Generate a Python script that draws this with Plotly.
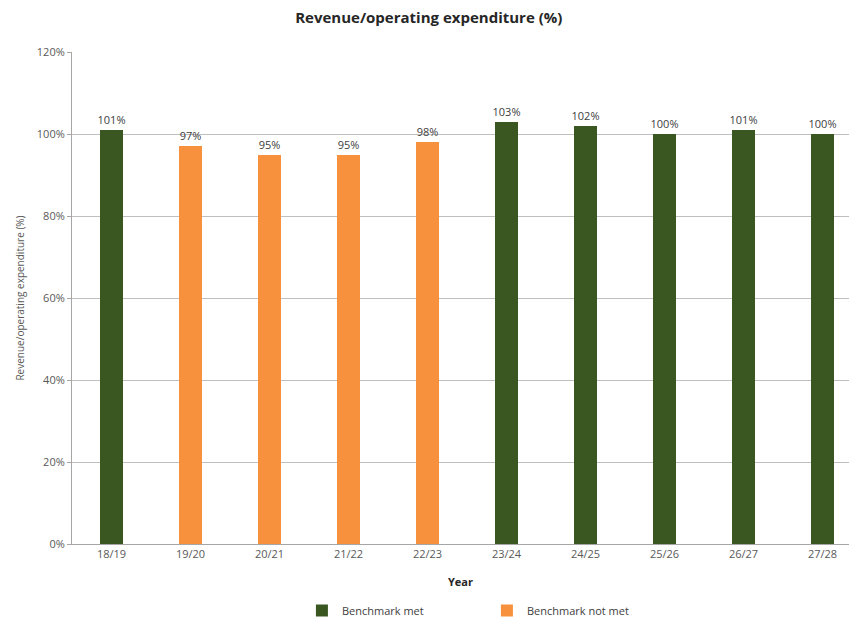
import plotly.graph_objects as go

years = ["18/19", "19/20", "20/21", "21/22", "22/23", "23/24", "24/25", "25/26", "26/27", "27/28"]
ratio_pct = [101, 97, 95, 95, 98, 103, 102, 100, 101, 100]
benchmark = 100

GREEN = "#3A5722"
ORANGE = "#F8913D"
FONT = "Open Sans, Segoe UI, sans-serif"

met_vals = [v if v >= benchmark else None for v in ratio_pct]
not_met_vals = [v if v < benchmark else None for v in ratio_pct]


def labels(vals):
    return [f"{v}%" if v is not None else "" for v in vals]


fig = go.Figure()
for name, vals, color in [("Benchmark met", met_vals, GREEN),
                          ("Benchmark not met", not_met_vals, ORANGE)]:
    fig.add_trace(go.Bar(
        x=years, y=vals, name=name,
        marker=dict(color=color, line=dict(width=0)),
        width=0.28, text=labels(vals), textposition="outside",
        constraintext="none",
        textfont=dict(size=11, color="#404040", family=FONT), cliponaxis=False,
    ))

fig.update_layout(
    width=849, height=625,
    margin=dict(l=72, r=0, t=52, b=80),
    paper_bgcolor="white", plot_bgcolor="white",
    barmode="overlay",
    font=dict(family=FONT, color="#595959", size=11),
    title=dict(
        text="<b>Revenue/operating expenditure (%)</b>",
        x=0.505, xanchor="center", y=0.972, yanchor="middle",
        font=dict(size=15, color="#262626", family=FONT),
    ),
    xaxis=dict(
        type="category", range=[-0.5, 9.335],
        showgrid=False, showline=True, linecolor="#A6A6A6", linewidth=1,
        ticks="", tickfont=dict(size=11, color="#595959"),
        title=dict(text="<b>Year</b>", font=dict(size=11, color="#262626"), standoff=18),
    ),
    yaxis=dict(
        range=[0, 120], dtick=20, ticksuffix="%",
        showgrid=True, gridcolor="#BFBFBF", gridwidth=1,
        showline=True, linecolor="#A6A6A6", linewidth=1,
        ticks="outside", ticklen=4, tickcolor="#A6A6A6",
        tickfont=dict(size=11, color="#595959"),
        zeroline=False,
        title=dict(text="Revenue/operating expenditure (%)",
                   font=dict(size=10, color="#595959"), standoff=10),
    ),
    legend=dict(
        orientation="h", x=0.534, xanchor="center", y=-0.135, yanchor="middle",
        font=dict(size=11, color="#404040"), itemwidth=30,
        entrywidth=140, traceorder="normal",
    ),
    bargap=0,
)

fig.write_html("out.html")
